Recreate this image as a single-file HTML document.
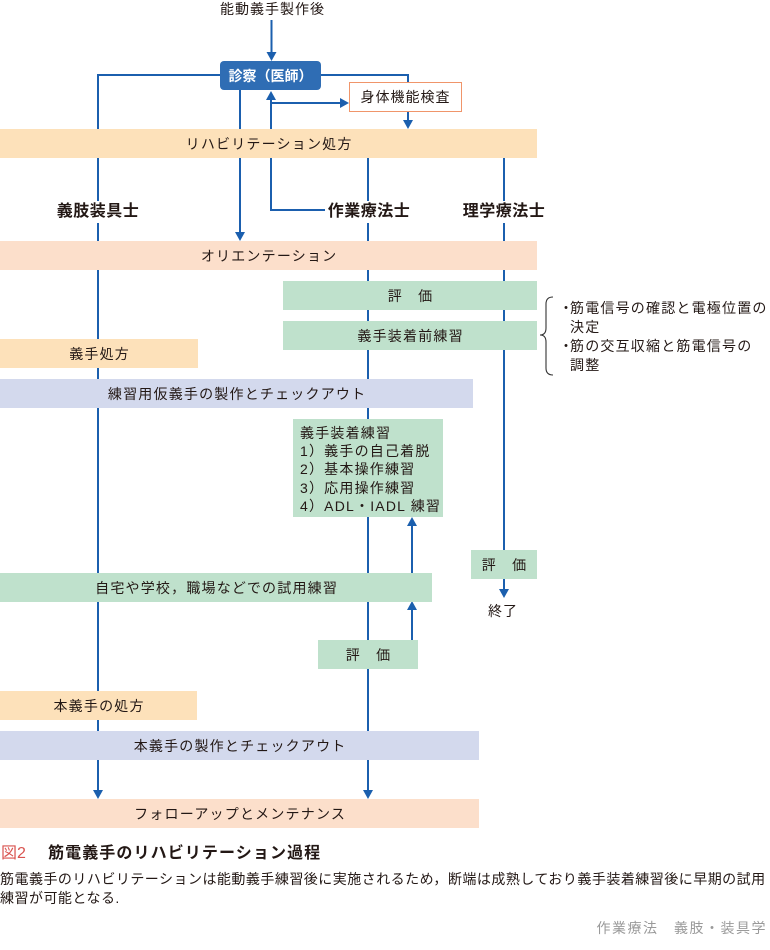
<!DOCTYPE html>
<html lang="ja">
<head>
<meta charset="utf-8">
<style>
  html, body { margin:0; padding:0; background:#fff; }
  body { width:770px; height:950px; position:relative; overflow:hidden;
         font-family:"Liberation Sans","Noto Sans CJK JP",sans-serif; color:#231815; }
  .abs { position:absolute; }
  .bar { position:absolute; display:flex; align-items:center; justify-content:center;
         font-size:14px; letter-spacing:1.2px; padding-left:1.2px; box-sizing:border-box; white-space:nowrap; }
  .or { background:#fde1ba; }
  .sa { background:#fcdfcb; }
  .gr { background:#bfe1cc; }
  .la { background:#d3d9ed; }
  .lbl { position:absolute; font-size:16px; font-weight:bold; letter-spacing:0.5px; background:#fff;
         height:22px; line-height:22px; text-align:center; white-space:nowrap; }
  .t { position:absolute; font-size:14px; letter-spacing:1.2px; white-space:nowrap; line-height:18px; }
</style>
</head>
<body>

<svg class="abs" style="left:0;top:0" width="770" height="950" viewBox="0 0 770 950">
  <g stroke="#1b5fae" stroke-width="2" fill="none">
    <path d="M271.5 20 V53"/>
    <path d="M221 75 H98 V790"/>
    <path d="M320 75 H408 V120"/>
    <path d="M240 90 V232"/>
    <path d="M271 99 V210 H325"/>
    <path d="M271 103 H340"/>
    <path d="M368 158 V790"/>
    <path d="M504 158 V550"/>
    <path d="M504 579 V589"/>
    <path d="M412 640 V609"/>
    <path d="M412 573 V525"/>
  </g>
  <g fill="#1b5fae">
    <polygon points="266.5,52 276.5,52 271.5,61"/>
    <polygon points="93,790 103,790 98,799"/>
    <polygon points="403,120 413,120 408,129"/>
    <polygon points="235,232 245,232 240,241"/>
    <polygon points="266,100 276,100 271,91"/>
    <polygon points="340,98 340,108 349,103"/>
    <polygon points="363,790 373,790 368,799"/>
    <polygon points="499,589 509,589 504,598"/>
    <polygon points="407,610 417,610 412,601"/>
    <polygon points="407,526 417,526 412,517"/>
  </g>
  <path d="M553 297 Q546 297 546 304 V328 Q546 335 540 335 Q546 335 546 342 V368 Q546 375 553 375"
        stroke="#333" stroke-width="1.1" fill="none"/>
</svg>

<!-- top title -->
<div class="t" style="left:220px;top:0px;font-size:14px;letter-spacing:1px;">能動義手製作後</div>

<!-- doctor box -->
<div class="abs" style="left:220px;top:61px;width:101px;height:29px;background:#2f6db4;border-radius:4px;color:#fff;font-weight:bold;font-size:14px;display:flex;align-items:center;justify-content:center;white-space:nowrap;">診察（医師）</div>

<!-- physical exam -->
<div class="abs" style="left:349px;top:82px;width:113px;height:30px;box-sizing:border-box;border:1.5px solid #f0956a;background:#fff;font-size:14px;letter-spacing:1px;display:flex;align-items:center;justify-content:center;white-space:nowrap;">身体機能検査</div>

<div class="bar or" style="left:0;top:129px;width:537px;height:29px;">リハビリテーション処方</div>

<!-- role labels -->
<div class="lbl" style="left:54px;top:201px;width:88px;">義肢装具士</div>
<div class="lbl" style="left:326px;top:201px;width:86px;">作業療法士</div>
<div class="lbl" style="left:461px;top:201px;width:86px;">理学療法士</div>

<div class="bar sa" style="left:0;top:241px;width:537px;height:29px;">オリエンテーション</div>
<div class="bar gr" style="left:283px;top:281px;width:254px;height:29px;">評　価</div>
<div class="bar gr" style="left:283px;top:321px;width:254px;height:29px;">義手装着前練習</div>

<!-- bullet notes -->
<div class="t" style="left:559px;top:299px;">・</div>
<div class="t" style="left:570px;top:299px;">筋電信号の確認と電極位置の</div>
<div class="t" style="left:570px;top:318px;">決定</div>
<div class="t" style="left:559px;top:337px;">・</div>
<div class="t" style="left:570px;top:337px;">筋の交互収縮と筋電信号の</div>
<div class="t" style="left:570px;top:356px;">調整</div>

<div class="bar or" style="left:0;top:339px;width:198px;height:29px;">義手処方</div>
<div class="bar la" style="left:0;top:379px;width:473px;height:29px;">練習用仮義手の製作とチェックアウト</div>

<!-- training box -->
<div class="abs gr" style="left:293px;top:419px;width:150px;height:98px;"></div>
<div class="t" style="left:300px;top:424px;">義手装着練習</div>
<div class="t" style="left:300px;top:442px;">1）義手の自己着脱</div>
<div class="t" style="left:300px;top:460px;">2）基本操作練習</div>
<div class="t" style="left:300px;top:479px;">3）応用操作練習</div>
<div class="t" style="left:300px;top:497px;">4）ADL・IADL 練習</div>

<div class="bar gr" style="left:0;top:573px;width:432px;height:29px;">自宅や学校，職場などでの試用練習</div>
<div class="bar gr" style="left:318px;top:640px;width:100px;height:29px;">評　価</div>
<div class="bar gr" style="left:471px;top:550px;width:66px;height:29px;">評　価</div>
<div class="t" style="left:488px;top:602px;font-size:14px;letter-spacing:1px;">終了</div>

<div class="bar or" style="left:0;top:691px;width:197px;height:29px;">本義手の処方</div>
<div class="bar la" style="left:0;top:731px;width:479px;height:29px;">本義手の製作とチェックアウト</div>
<div class="bar sa" style="left:0;top:799px;width:479px;height:29px;">フォローアップとメンテナンス</div>

<!-- caption -->
<div class="abs" style="left:1px;top:843px;font-size:16px;color:#d9534f;white-space:nowrap;line-height:22px;">図2</div>
<div class="abs" style="left:48px;top:843px;font-size:16px;font-weight:bold;letter-spacing:1.1px;white-space:nowrap;line-height:22px;">筋電義手のリハビリテーション過程</div>
<div class="abs" style="left:0;top:870px;font-size:14px;letter-spacing:0.48px;white-space:nowrap;line-height:19px;">筋電義手のリハビリテーションは能動義手練習後に実施されるため，断端は成熟しており義手装着練習後に早期の試用<br>練習が可能となる.</div>

<div class="abs" style="right:3px;top:918px;font-size:14px;letter-spacing:1.5px;color:#9a9a9a;white-space:nowrap;line-height:20px;">作業療法　義肢・装具学</div>

</body>
</html>
